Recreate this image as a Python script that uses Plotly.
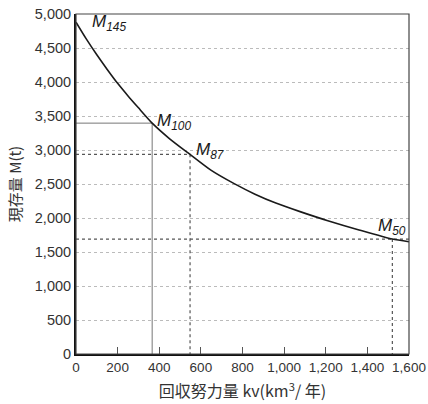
import plotly.graph_objects as go

# Curve: recovery effort kv vs standing stock M(t)
kv = [0, 50, 100, 150, 200, 250, 300, 366, 450, 548, 650, 760, 860, 960, 1080, 1210, 1360, 1520, 1600]
stock = [4880, 4630, 4400, 4185, 3980, 3795, 3620, 3395, 3165, 2935, 2700, 2505, 2350, 2220, 2090, 1960, 1825, 1690, 1650]

# Marked points
mark_labels = ["M", "M", "M", "M"]
mark_subs = ["145", "100", "87", "50"]
mark_kv = [0, 366, 548, 1520]
mark_stock = [4880, 3395, 2935, 1690]

y_ticks = [0, 500, 1000, 1500, 2000, 2500, 3000, 3500, 4000, 4500, 5000]
x_ticks = [0, 200, 400, 600, 800, 1000, 1200, 1400, 1600]

FONT = "Liberation Sans, Arial, sans-serif"
CJK = "Noto Sans CJK JP, Liberation Sans, sans-serif"

fig = go.Figure()

# Reference lines
fig.add_trace(go.Scatter(x=[0, mark_kv[1], mark_kv[1]], y=[mark_stock[1], mark_stock[1], 0],
                         mode="lines", line=dict(color="#777777", width=1), hoverinfo="skip"))
fig.add_trace(go.Scatter(x=[0, mark_kv[2], mark_kv[2]], y=[mark_stock[2], mark_stock[2], 0],
                         mode="lines", line=dict(color="#555555", width=1.2, dash="dot"), hoverinfo="skip"))
fig.add_trace(go.Scatter(x=[0, x_ticks[-1]], y=[mark_stock[3], mark_stock[3]],
                         mode="lines", line=dict(color="#555555", width=1.2, dash="dot"), hoverinfo="skip"))
fig.add_trace(go.Scatter(x=[mark_kv[3], mark_kv[3]], y=[mark_stock[3], 0],
                         mode="lines", line=dict(color="#555555", width=1.2, dash="dot"), hoverinfo="skip"))

# Main curve
fig.add_trace(go.Scatter(x=kv, y=stock, mode="lines",
                         line=dict(color="#1a1a1a", width=1.6, shape="spline", smoothing=0.6),
                         hoverinfo="skip"))

# Labels for marked points (pixel offsets from the marked point)
offsets = [(14, -14), (3, -12), (4, -10), (-16, -1)]
for lab, sub, xv, yv, (dx, dy) in zip(mark_labels, mark_subs, mark_kv, mark_stock, offsets):
    fig.add_annotation(x=xv, y=yv, xref="x", yref="y", showarrow=False,
                       text=f"<i>{lab}<sub>{sub}</sub></i>", xanchor="left", yanchor="bottom",
                       xshift=dx, yshift=dy,
                       font=dict(family=FONT, size=17, color="#1a1a1a"))

# Frame
fig.add_shape(type="rect", xref="paper", yref="paper", x0=0, y0=0, x1=1, y1=1,
              line=dict(color="#444444", width=1.2), layer="above")

fig.update_layout(
    width=428, height=404,
    margin=dict(l=76, r=19, t=14, b=50),
    paper_bgcolor="white", plot_bgcolor="white",
    showlegend=False,
    font=dict(family=FONT, color="#333333"),
    xaxis=dict(range=[0, 1600], tickvals=x_ticks, ticktext=[f"{v:,}" for v in x_ticks],
               automargin=False, ticklabeloverflow="allow",
               showgrid=False, zeroline=False, showline=True, linecolor="#111111", linewidth=2,
               ticks="inside", ticklen=7, tickwidth=1, tickcolor="#555555",
               tickfont=dict(family=FONT, size=13.5, color="#333333"),
               title=dict(text="回収努力量 kv(km<sup>3</sup>/ 年)",
                          font=dict(family=CJK, size=16, color="#333333"), standoff=12)),
    yaxis=dict(range=[0, 5000], tickvals=y_ticks, ticktext=[f"{v:,}" for v in y_ticks],
               automargin=False, ticklabeloverflow="allow",
               showgrid=True, gridcolor="#bbbbbb", griddash="dot", gridwidth=1,
               zeroline=False, showline=True, linecolor="#111111", linewidth=2,
               ticks="", tickfont=dict(family=FONT, size=14.5, color="#333333"),
               title=dict(text="現存量 M(t)", font=dict(family=CJK, size=15, color="#333333"), standoff=10)),
)

# Remove the page's default body margin and scrollbars so the figure fills the window.
fig.write_html("out.html",
               config={"displayModeBar": False, "staticPlot": True},
               post_script="document.body.style.margin='0';document.body.style.overflow='hidden';")
